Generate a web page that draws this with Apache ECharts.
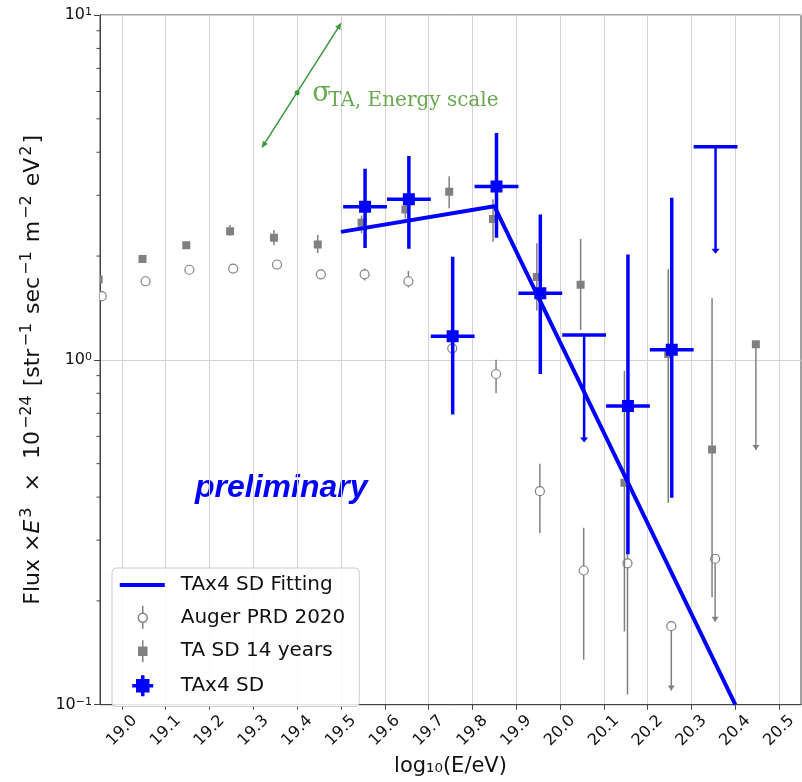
<!DOCTYPE html>
<html>
<head>
<meta charset="utf-8">
<script src="https://cdn.jsdelivr.net/npm/echarts@6/dist/echarts.min.js"></script>
<style>
  html, body { margin: 0; padding: 0; background: #fff; }
  #chart { width: 802px; height: 782px; }
</style>
</head>
<body>
<div id="chart"></div>
<script>
// axis ticks
const xTicks = [19.0, 19.1, 19.2, 19.3, 19.4, 19.5, 19.6, 19.7, 19.8, 19.9, 20.0, 20.1, 20.2, 20.3, 20.4, 20.5];
const yTickLabels = { '0.1': '10{sup|−1}', '1': '10{sup|0}', '10': '10{sup|1}' };
const yMinorTicks = [0.2, 0.3, 0.4, 0.5, 0.6, 0.7, 0.8, 0.9, 2, 3, 4, 5, 6, 7, 8, 9];

// TA SD 14 years (drawn slightly left of the bin centre)
const taX   = [18.947, 19.047, 19.147, 19.247, 19.347, 19.447, 19.547, 19.647, 19.747, 19.847, 19.947, 20.047, 20.147, 20.247, 20.347];
const taVal = [1.71, 1.96, 2.15, 2.36, 2.26, 2.16, 2.50, 2.73, 3.07, 2.56, 1.74, 1.65, 0.44, 1.04, 0.55];
const taLo  = [1.66, 1.92, 2.10, 2.29, 2.15, 2.04, 2.33, 2.57, 2.75, 2.20, 1.39, 1.22, 0.163, 0.385, 0.205];
const taHi  = [1.76, 2.00, 2.20, 2.46, 2.38, 2.30, 2.62, 2.88, 3.41, 2.92, 2.18, 2.24, 0.93, 1.83, 1.51];
const taUlX   = [20.447];
const taUlVal = [1.11];
const taUlTip = [0.548];

// Auger PRD 2020 (drawn slightly right of the bin centre)
const augX   = [18.954, 19.054, 19.154, 19.254, 19.354, 19.454, 19.554, 19.654, 19.754, 19.854, 19.954, 20.054, 20.154];
const augVal = [1.53, 1.69, 1.825, 1.84, 1.89, 1.77, 1.77, 1.69, 1.08, 0.91, 0.416, 0.245, 0.257];
const augLo  = [1.49, 1.65, 1.79, 1.80, 1.85, 1.72, 1.70, 1.62, 1.03, 0.80, 0.315, 0.135, 0.107];
const augHi  = [1.57, 1.73, 1.86, 1.88, 1.93, 1.82, 1.84, 1.81, 1.13, 1.00, 0.50, 0.326, 0.40];
const augUlX   = [20.254, 20.354];
const augUlVal = [0.169, 0.265];
const augUlTip = [0.110, 0.174];

// TAx4 SD
const tax4X   = [19.555, 19.655, 19.755, 19.855, 19.955, 20.155, 20.255];
const tax4Val = [2.78, 2.92, 1.17, 3.18, 1.56, 0.735, 1.07];
const tax4Lo  = [2.11, 2.10, 0.694, 2.26, 0.91, 0.273, 0.398];
const tax4Hi  = [3.58, 3.90, 1.99, 4.55, 2.64, 2.02, 2.95];
const tax4UlX   = [20.055, 20.355];
const tax4UlVal = [1.18, 4.15];
const tax4UlTip = [0.576, 2.03];
const tax4XErr = 0.05;

// TAx4 SD fitting
const fitX = [19.5, 19.85, 20.4];
const fitY = [2.35, 2.79, 0.1];

// energy scale arrow (low end, centre, high end)
const arrowX = [19.32, 19.40, 19.50];
const arrowY = [4.13, 5.95, 9.46];

const X_MIN = 18.95, X_MAX = 20.55;
const BLUE = '#0000ff', GRAY = '#808080';

function arrowHead(tip, from, len, half, color) {
  const dx = tip[0] - from[0], dy = tip[1] - from[1];
  const d = Math.hypot(dx, dy) || 1;
  const ux = dx / d, uy = dy / d;
  const bx = tip[0] - ux * len, by = tip[1] - uy * len;
  return {
    type: 'polygon',
    shape: { points: [tip, [bx - uy * half, by + ux * half], [bx + uy * half, by - ux * half]] },
    style: { fill: color }
  };
}

function grayMarker(kind, p) {
  if (kind === 'circle') {
    return { type: 'circle', shape: { cx: p[0], cy: p[1], r: 4.5 }, style: { fill: '#fff', stroke: GRAY, lineWidth: 1.2 } };
  }
  return { type: 'rect', shape: { x: p[0] - 4, y: p[1] - 4, width: 8, height: 8 }, style: { fill: GRAY } };
}

function grayPoint(kind) {
  return function (params, api) {
    const x = api.value(0);
    const p = api.coord([x, api.value(1)]);
    const lo = api.coord([x, api.value(2)]);
    const hi = api.coord([x, api.value(3)]);
    return {
      type: 'group',
      children: [
        { type: 'line', shape: { x1: p[0], y1: hi[1], x2: p[0], y2: lo[1] }, style: { stroke: GRAY, lineWidth: 1.5 } },
        grayMarker(kind, p)
      ]
    };
  };
}

function grayUpper(kind) {
  return function (params, api) {
    const x = api.value(0);
    const p = api.coord([x, api.value(1)]);
    const tip = api.coord([x, api.value(2)]);
    return {
      type: 'group',
      children: [
        { type: 'line', shape: { x1: p[0], y1: p[1], x2: tip[0], y2: tip[1] }, style: { stroke: GRAY, lineWidth: 1.5 } },
        arrowHead(tip, p, 5, 3.5, GRAY),
        grayMarker(kind, p)
      ]
    };
  };
}

function bluePoint(params, api) {
  const x = api.value(0), v = api.value(1);
  const p = api.coord([x, v]);
  const lo = api.coord([x, api.value(2)]);
  const hi = api.coord([x, api.value(3)]);
  const l = api.coord([x - tax4XErr, v]);
  const r = api.coord([x + tax4XErr, v]);
  const st = { stroke: BLUE, lineWidth: 3.5 };
  return {
    type: 'group',
    children: [
      { type: 'line', shape: { x1: p[0], y1: hi[1], x2: p[0], y2: lo[1] }, style: st },
      { type: 'line', shape: { x1: l[0], y1: p[1], x2: r[0], y2: p[1] }, style: st },
      { type: 'rect', shape: { x: p[0] - 6, y: p[1] - 6, width: 12, height: 12 }, style: { fill: BLUE } }
    ]
  };
}

function blueUpper(params, api) {
  const x = api.value(0), v = api.value(1);
  const p = api.coord([x, v]);
  const tip = api.coord([x, api.value(2)]);
  const l = api.coord([x - tax4XErr, v]);
  const r = api.coord([x + tax4XErr, v]);
  const st = { stroke: BLUE, lineWidth: 3.5 };
  return {
    type: 'group',
    children: [
      { type: 'line', shape: { x1: l[0], y1: p[1], x2: r[0], y2: p[1] }, style: st },
      { type: 'line', shape: { x1: p[0], y1: p[1], x2: tip[0], y2: tip[1] - 3 }, style: { stroke: BLUE, lineWidth: 2.5 } },
      arrowHead(tip, p, 5, 4, BLUE)
    ]
  };
}

function energyArrow(params, api) {
  const a = api.coord([api.value(0), api.value(1)]);
  const m = api.coord([api.value(2), api.value(3)]);
  const b = api.coord([api.value(4), api.value(5)]);
  const green = '#3a963a';
  return {
    type: 'group',
    children: [
      { type: 'line', shape: { x1: a[0], y1: a[1], x2: b[0], y2: b[1] }, style: { stroke: green, lineWidth: 1.5 } },
      arrowHead(a, b, 6, 3, green),
      arrowHead(b, a, 6, 3, green),
      { type: 'circle', shape: { cx: m[0], cy: m[1], r: 2.5 }, style: { fill: green } },
      { type: 'text', x: m[0] + 15, y: m[1] + 1, style: { text: 'σ', fill: '#6aa84f', font: '27px "DejaVu Serif", serif', verticalAlign: 'middle' } },
      { type: 'text', x: m[0] + 31, y: m[1] + 8, style: { text: 'TA, Energy scale', fill: '#6aa84f', font: '20px "DejaVu Serif", serif', verticalAlign: 'middle' } }
    ]
  };
}

function minorTick(params, api) {
  const p = api.coord([X_MIN, api.value(1)]);
  return { type: 'line', shape: { x1: p[0] - 3.5, y1: p[1], x2: p[0], y2: p[1] }, style: { stroke: '#444', lineWidth: 1 } };
}

const nameRich = {
  t: { fontSize: 22, color: '#111', verticalAlign: 'bottom' },
  i: { fontSize: 22, color: '#111', fontStyle: 'italic', verticalAlign: 'bottom' },
  sup: { fontSize: 16, color: '#111', verticalAlign: 'bottom', padding: [0, 2, 10, 2] }
};
const yName = '{t|Flux ×}{i|E}{sup|3}{t|  ×  10}{sup|−24}{t| [str}{sup|−1}{t| sec}{sup|−1}{t| m}{sup|−2}{t| eV}{sup|2}{t|]}';

const chart = echarts.init(document.getElementById('chart'));

chart.setOption({
  animation: false,
  backgroundColor: '#fff',
  textStyle: { fontFamily: 'DejaVu Sans' },
  grid: { left: 100, right: 1, top: 15, bottom: 72, show: true, borderColor: '#444', borderWidth: 1, backgroundColor: 'transparent' },
  xAxis: {
    type: 'value',
    min: X_MIN,
    max: X_MAX,
    name: 'log₁₀(E/eV)',
    nameLocation: 'middle',
    nameGap: 44,
    nameTextStyle: { fontSize: 21, color: '#111' },
    axisLine: { lineStyle: { color: '#444' } },
    axisTick: { customValues: xTicks, length: 5, lineStyle: { color: '#444' } },
    axisLabel: {
      customValues: xTicks,
      rotate: 45,
      align: 'center',
      verticalAlign: 'middle',
      margin: 26,
      fontSize: 16,
      color: '#111',
      formatter: v => v.toFixed(1)
    },
    splitLine: { show: true, lineStyle: { color: '#d3d3d3', width: 1 } }
  },
  yAxis: {
    type: 'log',
    logBase: 10,
    min: 0.1,
    max: 10,
    name: yName,
    nameLocation: 'middle',
    nameGap: 42,
    nameTextStyle: { fontSize: 22, color: '#111', rich: nameRich, padding: [0, 20, 0, 0] },
    axisLine: { lineStyle: { color: '#444' } },
    axisTick: { length: 6, lineStyle: { color: '#444' } },
    axisLabel: {
      fontSize: 16, color: '#111', margin: 8,
      formatter: v => yTickLabels[String(v)] || '',
      rich: { sup: { fontSize: 11, color: '#111', verticalAlign: 'top', padding: [0, 0, 6, 0] } }
    },
    splitLine: { show: true, lineStyle: { color: '#d3d3d3', width: 1 } }
  },
  legend: {
    orient: 'vertical',
    left: 112,
    top: 568,
    padding: [5, 14, 7, 6],
    itemGap: 8,
    itemWidth: 56,
    itemHeight: 24,
    selectedMode: false,
    backgroundColor: 'rgba(255,255,255,0.85)',
    borderColor: '#cccccc',
    borderWidth: 1,
    borderRadius: 4,
    textStyle: { fontSize: 20, color: '#111' },
    data: [
      { name: 'TAx4 SD Fitting', icon: 'path://M0,0 M56,24 M0,10 L45,10 L45,14 L0,14 Z',
        itemStyle: { color: BLUE, borderWidth: 0 } },
      { name: 'Auger PRD 2020', icon: 'path://M0,0 M56,24 M23,0 L23,7.5 M23,16.5 L23,23 M27.5,12 A4.5,4.5 0 1 1 18.5,12 A4.5,4.5 0 1 1 27.5,12 Z',
        itemStyle: { color: '#fff', borderColor: GRAY, borderWidth: 1.5 } },
      { name: 'TA SD 14 years', icon: 'path://M0,0 M56,24 M23,1 L23,23 M19,8 L27,8 L27,16 L19,16 Z',
        itemStyle: { color: GRAY, borderColor: GRAY, borderWidth: 1.5 } },
      { name: 'TAx4 SD', icon: 'path://M0,0 M56,24 M23,1.5 L23,22.5 M12.5,12 L33.5,12 M18,7 L28,7 L28,17 L18,17 Z',
        itemStyle: { color: BLUE, borderColor: BLUE, borderWidth: 3.5 } }
    ]
  },
  graphic: [
    { type: 'text', left: 195, top: 472, style: { text: 'preliminary', fill: BLUE, font: 'italic bold 32px "Liberation Sans", Arial, sans-serif' } }
  ],
  series: [
    {
      type: 'custom', name: 'minor', silent: true, clip: false, z: 1,
      renderItem: minorTick,
      data: yMinorTicks.map(v => [X_MIN, v])
    },
    {
      type: 'custom', name: 'Auger PRD 2020', clip: true, z: 2,
      itemStyle: { color: GRAY },
      renderItem: grayPoint('circle'),
      data: augX.map((x, i) => [x, augVal[i], augLo[i], augHi[i]])
    },
    {
      type: 'custom', name: 'Auger PRD 2020', clip: true, z: 2,
      itemStyle: { color: GRAY },
      renderItem: grayUpper('circle'),
      data: augUlX.map((x, i) => [x, augUlVal[i], augUlTip[i]])
    },
    {
      type: 'custom', name: 'TA SD 14 years', clip: true, z: 3,
      itemStyle: { color: GRAY },
      renderItem: grayPoint('square'),
      data: taX.map((x, i) => [x, taVal[i], taLo[i], taHi[i]])
    },
    {
      type: 'custom', name: 'TA SD 14 years', clip: true, z: 3,
      itemStyle: { color: GRAY },
      renderItem: grayUpper('square'),
      data: taUlX.map((x, i) => [x, taUlVal[i], taUlTip[i]])
    },
    {
      type: 'line', name: 'TAx4 SD Fitting', z: 4,
      symbol: 'none',
      lineStyle: { color: BLUE, width: 4 },
      itemStyle: { color: BLUE },
      data: fitX.map((x, i) => [x, fitY[i]])
    },
    {
      type: 'custom', name: 'TAx4 SD', clip: true, z: 5,
      itemStyle: { color: BLUE },
      renderItem: bluePoint,
      data: tax4X.map((x, i) => [x, tax4Val[i], tax4Lo[i], tax4Hi[i]])
    },
    {
      type: 'custom', name: 'TAx4 SD', clip: true, z: 5,
      itemStyle: { color: BLUE },
      renderItem: blueUpper,
      data: tax4UlX.map((x, i) => [x, tax4UlVal[i], tax4UlTip[i]])
    },
    {
      type: 'custom', name: 'energy', silent: true, clip: false, z: 6,
      renderItem: energyArrow,
      data: [[arrowX[0], arrowY[0], arrowX[1], arrowY[1], arrowX[2], arrowY[2]]]
    }
  ]
});
</script>
</body>
</html>
